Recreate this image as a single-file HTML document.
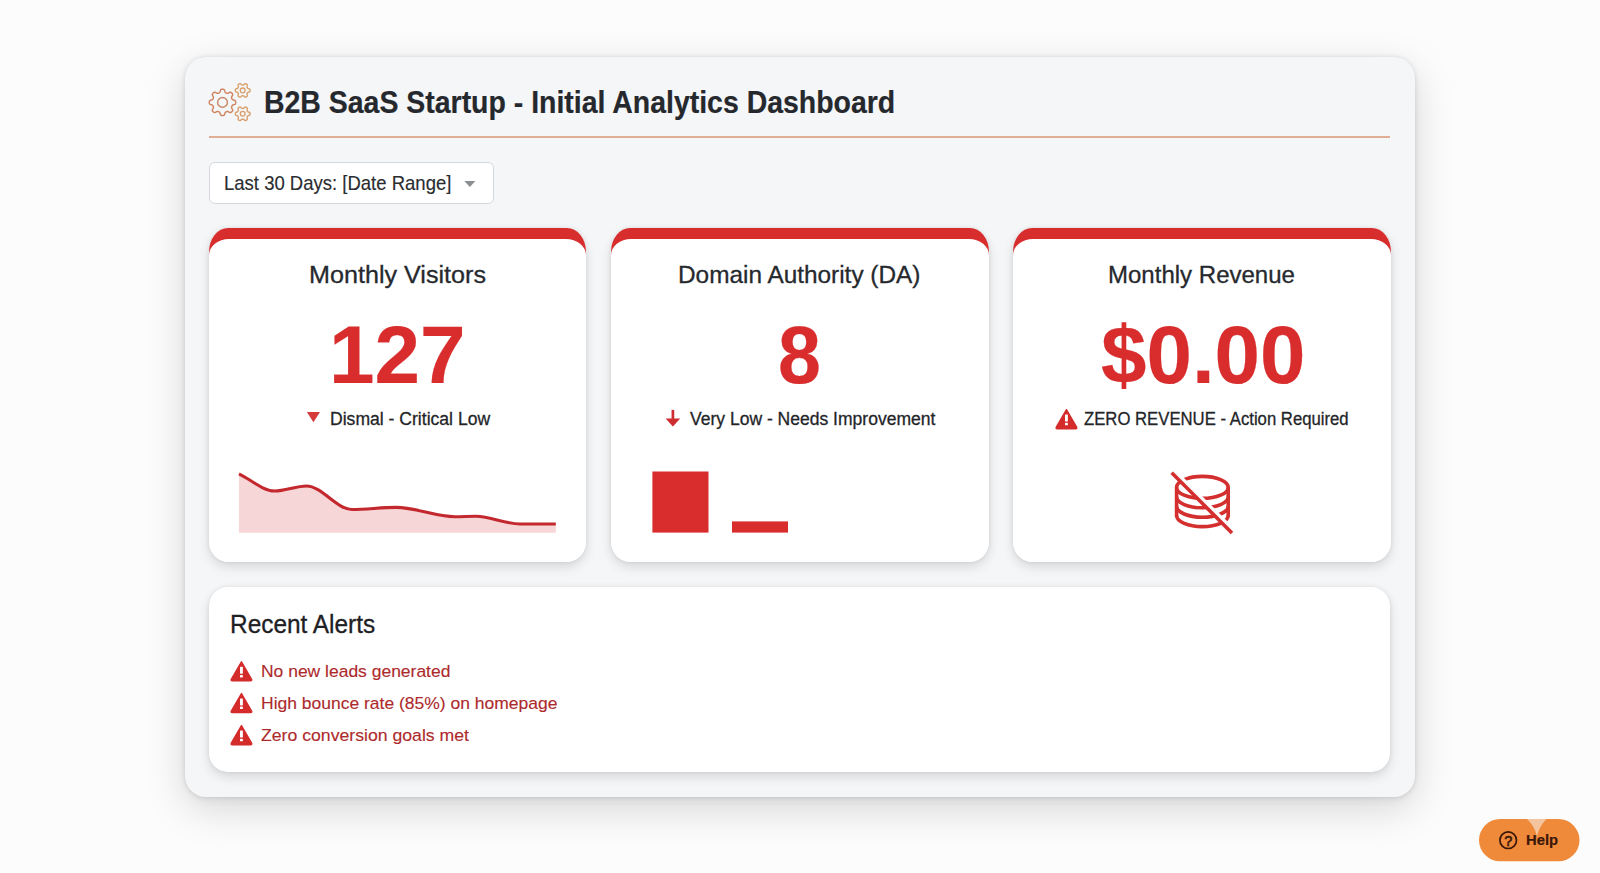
<!DOCTYPE html>
<html><head><meta charset="utf-8">
<style>
*{margin:0;padding:0;box-sizing:border-box}
html,body{width:1600px;height:873px;overflow:hidden;background:#fcfcfc;font-family:"Liberation Sans",sans-serif}
.abs{position:absolute}
.t{position:absolute;white-space:nowrap;line-height:1;transform-origin:0 0}
#panel{position:absolute;left:185px;top:57px;width:1230px;height:740px;background:#f5f6f8;border-radius:21px;
 box-shadow:0 0 4px rgba(0,0,0,0.10),0 12px 40px rgba(0,0,0,0.15),0 3px 8px rgba(0,0,0,0.06)}
#rule{left:209px;top:136px;width:1181px;height:2px;background:rgba(214,140,100,0.68)}
#dd{left:209px;top:161.5px;width:284.5px;height:42.5px;background:#fff;border:1px solid #d5d8dc;border-radius:6px}
.card{position:absolute;top:228.3px;width:377.5px;height:334.2px;border-radius:19px 19px 20px 20px / 24px 24px 20px 20px;
 box-shadow:0 0 4px rgba(0,0,0,0.08),0 5px 12px rgba(0,0,0,0.12)}
.card b{position:absolute;left:0;right:0;top:0;height:40px;background:#d72d2d;border-radius:19px 19px 0 0 / 24px 24px 0 0}
.card i{position:absolute;left:0;right:0;top:10.9px;bottom:0;background:#fff;border-radius:20px 20px 20px 20px / 16px 16px 20px 20px}
#alerts{position:absolute;left:209px;top:586.6px;width:1181px;height:185.8px;background:#fff;border-radius:19px;
 box-shadow:0 0 4px rgba(0,0,0,0.08),0 5px 12px rgba(0,0,0,0.12)}
svg.full{position:absolute;left:0;top:0;width:1600px;height:873px;overflow:visible}
</style></head><body>
<div id="panel"></div>
<div class="abs" id="rule"></div>
<div class="abs" id="dd"></div>
<div class="card" style="left:208.75px"><b></b><i></i></div>
<div class="card" style="left:611px"><b></b><i></i></div>
<div class="card" style="left:1013px"><b></b><i></i></div>
<div id="alerts"></div>
<svg class="full" viewBox="0 0 1600 873">
 <g fill="none" stroke-linejoin="round">
  <path d="M235.70,102.40L235.70,102.63L235.68,102.86L235.66,103.09L235.61,103.32L235.55,103.54L235.46,103.76L235.33,103.98L235.13,104.18L234.85,104.36L234.48,104.51L234.04,104.64L233.58,104.76L233.17,104.86L232.84,104.98L232.59,105.10L232.41,105.24L232.28,105.39L232.17,105.54L232.09,105.70L232.01,105.86L231.93,106.02L231.87,106.18L231.80,106.35L231.73,106.51L231.67,106.68L231.61,106.84L231.56,107.02L231.53,107.20L231.52,107.40L231.55,107.63L231.64,107.89L231.79,108.20L232.00,108.57L232.25,108.97L232.47,109.38L232.62,109.75L232.69,110.08L232.69,110.36L232.63,110.60L232.54,110.82L232.42,111.03L232.29,111.21L232.15,111.39L231.99,111.57L231.83,111.73L231.67,111.89L231.49,112.05L231.31,112.19L231.13,112.32L230.92,112.44L230.70,112.53L230.46,112.59L230.18,112.59L229.85,112.52L229.48,112.37L229.07,112.15L228.67,111.90L228.30,111.69L227.99,111.54L227.73,111.45L227.50,111.42L227.30,111.43L227.12,111.46L226.94,111.51L226.78,111.57L226.61,111.63L226.45,111.70L226.28,111.77L226.12,111.83L225.96,111.91L225.80,111.99L225.64,112.07L225.49,112.18L225.34,112.31L225.20,112.49L225.08,112.74L224.96,113.07L224.86,113.48L224.74,113.94L224.61,114.38L224.46,114.75L224.28,115.03L224.08,115.23L223.86,115.36L223.64,115.45L223.42,115.51L223.19,115.56L222.96,115.58L222.73,115.60L222.50,115.60L222.27,115.60L222.04,115.58L221.81,115.56L221.58,115.51L221.36,115.45L221.14,115.36L220.92,115.23L220.72,115.03L220.54,114.75L220.39,114.38L220.26,113.94L220.14,113.48L220.04,113.07L219.92,112.74L219.80,112.49L219.66,112.31L219.51,112.18L219.36,112.07L219.20,111.99L219.04,111.91L218.88,111.83L218.72,111.77L218.55,111.70L218.39,111.63L218.22,111.57L218.06,111.51L217.88,111.46L217.70,111.43L217.50,111.42L217.27,111.45L217.01,111.54L216.70,111.69L216.33,111.90L215.93,112.15L215.52,112.37L215.15,112.52L214.82,112.59L214.54,112.59L214.30,112.53L214.08,112.44L213.87,112.32L213.69,112.19L213.51,112.05L213.33,111.89L213.17,111.73L213.01,111.57L212.85,111.39L212.71,111.21L212.58,111.03L212.46,110.82L212.37,110.60L212.31,110.36L212.31,110.08L212.38,109.75L212.53,109.38L212.75,108.97L213.00,108.57L213.21,108.20L213.36,107.89L213.45,107.63L213.48,107.40L213.47,107.20L213.44,107.02L213.39,106.84L213.33,106.68L213.27,106.51L213.20,106.35L213.13,106.18L213.07,106.02L212.99,105.86L212.91,105.70L212.83,105.54L212.72,105.39L212.59,105.24L212.41,105.10L212.16,104.98L211.83,104.86L211.42,104.76L210.96,104.64L210.52,104.51L210.15,104.36L209.87,104.18L209.67,103.98L209.54,103.76L209.45,103.54L209.39,103.32L209.34,103.09L209.32,102.86L209.30,102.63L209.30,102.40L209.30,102.17L209.32,101.94L209.34,101.71L209.39,101.48L209.45,101.26L209.54,101.04L209.67,100.82L209.87,100.62L210.15,100.44L210.52,100.29L210.96,100.16L211.42,100.04L211.83,99.94L212.16,99.82L212.41,99.70L212.59,99.56L212.72,99.41L212.83,99.26L212.91,99.10L212.99,98.94L213.07,98.78L213.13,98.62L213.20,98.45L213.27,98.29L213.33,98.12L213.39,97.96L213.44,97.78L213.47,97.60L213.48,97.40L213.45,97.17L213.36,96.91L213.21,96.60L213.00,96.23L212.75,95.83L212.53,95.42L212.38,95.05L212.31,94.72L212.31,94.44L212.37,94.20L212.46,93.98L212.58,93.77L212.71,93.59L212.85,93.41L213.01,93.23L213.17,93.07L213.33,92.91L213.51,92.75L213.69,92.61L213.87,92.48L214.08,92.36L214.30,92.27L214.54,92.21L214.82,92.21L215.15,92.28L215.52,92.43L215.93,92.65L216.33,92.90L216.70,93.11L217.01,93.26L217.27,93.35L217.50,93.38L217.70,93.37L217.88,93.34L218.06,93.29L218.22,93.23L218.39,93.17L218.55,93.10L218.72,93.03L218.88,92.97L219.04,92.89L219.20,92.81L219.36,92.73L219.51,92.62L219.66,92.49L219.80,92.31L219.92,92.06L220.04,91.73L220.14,91.32L220.26,90.86L220.39,90.42L220.54,90.05L220.72,89.77L220.92,89.57L221.14,89.44L221.36,89.35L221.58,89.29L221.81,89.24L222.04,89.22L222.27,89.20L222.50,89.20L222.73,89.20L222.96,89.22L223.19,89.24L223.42,89.29L223.64,89.35L223.86,89.44L224.08,89.57L224.28,89.77L224.46,90.05L224.61,90.42L224.74,90.86L224.86,91.32L224.96,91.73L225.08,92.06L225.20,92.31L225.34,92.49L225.49,92.62L225.64,92.73L225.80,92.81L225.96,92.89L226.12,92.97L226.28,93.03L226.45,93.10L226.61,93.17L226.78,93.23L226.94,93.29L227.12,93.34L227.30,93.37L227.50,93.38L227.73,93.35L227.99,93.26L228.30,93.11L228.67,92.90L229.07,92.65L229.48,92.43L229.85,92.28L230.18,92.21L230.46,92.21L230.70,92.27L230.92,92.36L231.13,92.48L231.31,92.61L231.49,92.75L231.67,92.91L231.83,93.07L231.99,93.23L232.15,93.41L232.29,93.59L232.42,93.77L232.54,93.98L232.63,94.20L232.69,94.44L232.69,94.72L232.62,95.05L232.47,95.42L232.25,95.83L232.00,96.23L231.79,96.60L231.64,96.91L231.55,97.17L231.52,97.40L231.53,97.60L231.56,97.78L231.61,97.96L231.67,98.12L231.73,98.29L231.80,98.45L231.87,98.62L231.93,98.78L232.01,98.94L232.09,99.10L232.17,99.26L232.28,99.41L232.41,99.56L232.59,99.70L232.84,99.82L233.17,99.94L233.58,100.04L234.04,100.16L234.48,100.29L234.85,100.44L235.13,100.62L235.33,100.82L235.46,101.04L235.55,101.26L235.61,101.48L235.66,101.71L235.68,101.94L235.70,102.17Z" stroke="#cf8460" stroke-width="1.45"/>
  <circle cx="222.5" cy="102.4" r="4.9" stroke="#c98662" stroke-width="1.4"/>
  <path d="M250.10,90.40L250.10,90.53L250.09,90.66L250.08,90.79L250.06,90.91L250.04,91.04L250.01,91.17L249.97,91.29L249.92,91.42L249.85,91.53L249.76,91.65L249.65,91.75L249.50,91.85L249.32,91.93L249.11,92.00L248.88,92.06L248.66,92.11L248.44,92.16L248.26,92.21L248.11,92.26L247.99,92.32L247.89,92.39L247.81,92.46L247.74,92.54L247.68,92.62L247.62,92.69L247.57,92.77L247.52,92.86L247.47,92.94L247.42,93.02L247.38,93.10L247.33,93.18L247.28,93.26L247.24,93.35L247.19,93.43L247.15,93.51L247.11,93.60L247.07,93.69L247.04,93.79L247.02,93.90L247.01,94.02L247.02,94.15L247.05,94.31L247.09,94.50L247.16,94.70L247.23,94.93L247.29,95.15L247.33,95.37L247.35,95.57L247.34,95.74L247.31,95.90L247.26,96.03L247.19,96.15L247.11,96.25L247.02,96.35L246.93,96.44L246.83,96.52L246.73,96.60L246.62,96.67L246.51,96.74L246.40,96.81L246.29,96.87L246.17,96.93L246.06,96.99L245.94,97.04L245.81,97.08L245.69,97.12L245.56,97.15L245.43,97.16L245.30,97.16L245.15,97.14L245.00,97.09L244.85,97.01L244.69,96.90L244.52,96.75L244.36,96.58L244.20,96.41L244.05,96.25L243.92,96.12L243.79,96.02L243.68,95.94L243.57,95.89L243.47,95.85L243.37,95.83L243.27,95.82L243.17,95.81L243.08,95.80L242.98,95.80L242.89,95.80L242.79,95.80L242.70,95.80L242.61,95.80L242.51,95.80L242.42,95.80L242.32,95.80L242.23,95.81L242.13,95.82L242.03,95.83L241.93,95.85L241.83,95.89L241.72,95.94L241.61,96.02L241.48,96.12L241.35,96.25L241.20,96.41L241.04,96.58L240.88,96.75L240.71,96.90L240.55,97.01L240.40,97.09L240.25,97.14L240.10,97.16L239.97,97.16L239.84,97.15L239.71,97.12L239.59,97.08L239.46,97.04L239.34,96.99L239.23,96.93L239.11,96.87L239.00,96.81L238.89,96.74L238.78,96.67L238.67,96.60L238.57,96.52L238.47,96.44L238.38,96.35L238.29,96.25L238.21,96.15L238.14,96.03L238.09,95.90L238.06,95.74L238.05,95.57L238.07,95.37L238.11,95.15L238.17,94.93L238.24,94.70L238.31,94.50L238.35,94.31L238.38,94.15L238.39,94.02L238.38,93.90L238.36,93.79L238.33,93.69L238.29,93.60L238.25,93.51L238.21,93.43L238.16,93.35L238.12,93.26L238.07,93.18L238.02,93.10L237.98,93.02L237.93,92.94L237.88,92.86L237.83,92.77L237.78,92.69L237.72,92.62L237.66,92.54L237.59,92.46L237.51,92.39L237.41,92.32L237.29,92.26L237.14,92.21L236.96,92.16L236.74,92.11L236.52,92.06L236.29,92.00L236.08,91.93L235.90,91.85L235.75,91.75L235.64,91.65L235.55,91.53L235.48,91.42L235.43,91.29L235.39,91.17L235.36,91.04L235.34,90.91L235.32,90.79L235.31,90.66L235.30,90.53L235.30,90.40L235.30,90.27L235.31,90.14L235.32,90.01L235.34,89.89L235.36,89.76L235.39,89.63L235.43,89.51L235.48,89.38L235.55,89.27L235.64,89.15L235.75,89.05L235.90,88.95L236.08,88.87L236.29,88.80L236.52,88.74L236.74,88.69L236.96,88.64L237.14,88.59L237.29,88.54L237.41,88.48L237.51,88.41L237.59,88.34L237.66,88.26L237.72,88.18L237.78,88.11L237.83,88.03L237.88,87.94L237.93,87.86L237.98,87.78L238.02,87.70L238.07,87.62L238.12,87.54L238.16,87.45L238.21,87.37L238.25,87.29L238.29,87.20L238.33,87.11L238.36,87.01L238.38,86.90L238.39,86.78L238.38,86.65L238.35,86.49L238.31,86.30L238.24,86.10L238.17,85.87L238.11,85.65L238.07,85.43L238.05,85.23L238.06,85.06L238.09,84.90L238.14,84.77L238.21,84.65L238.29,84.55L238.38,84.45L238.47,84.36L238.57,84.28L238.67,84.20L238.78,84.13L238.89,84.06L239.00,83.99L239.11,83.93L239.23,83.87L239.34,83.81L239.46,83.76L239.59,83.72L239.71,83.68L239.84,83.65L239.97,83.64L240.10,83.64L240.25,83.66L240.40,83.71L240.55,83.79L240.71,83.90L240.88,84.05L241.04,84.22L241.20,84.39L241.35,84.55L241.48,84.68L241.61,84.78L241.72,84.86L241.83,84.91L241.93,84.95L242.03,84.97L242.13,84.98L242.23,84.99L242.32,85.00L242.42,85.00L242.51,85.00L242.61,85.00L242.70,85.00L242.79,85.00L242.89,85.00L242.98,85.00L243.08,85.00L243.17,84.99L243.27,84.98L243.37,84.97L243.47,84.95L243.57,84.91L243.68,84.86L243.79,84.78L243.92,84.68L244.05,84.55L244.20,84.39L244.36,84.22L244.52,84.05L244.69,83.90L244.85,83.79L245.00,83.71L245.15,83.66L245.30,83.64L245.43,83.64L245.56,83.65L245.69,83.68L245.81,83.72L245.94,83.76L246.06,83.81L246.17,83.87L246.29,83.93L246.40,83.99L246.51,84.06L246.62,84.13L246.73,84.20L246.83,84.28L246.93,84.36L247.02,84.45L247.11,84.55L247.19,84.65L247.26,84.77L247.31,84.90L247.34,85.06L247.35,85.23L247.33,85.43L247.29,85.65L247.23,85.87L247.16,86.10L247.09,86.30L247.05,86.49L247.02,86.65L247.01,86.78L247.02,86.90L247.04,87.01L247.07,87.11L247.11,87.20L247.15,87.29L247.19,87.37L247.24,87.45L247.28,87.54L247.33,87.62L247.38,87.70L247.42,87.78L247.47,87.86L247.52,87.94L247.57,88.03L247.62,88.11L247.68,88.18L247.74,88.26L247.81,88.34L247.89,88.41L247.99,88.48L248.11,88.54L248.26,88.59L248.44,88.64L248.66,88.69L248.88,88.74L249.11,88.80L249.32,88.87L249.50,88.95L249.65,89.05L249.76,89.15L249.85,89.27L249.92,89.38L249.97,89.51L250.01,89.63L250.04,89.76L250.06,89.89L250.08,90.01L250.09,90.14L250.10,90.27Z" stroke="#d9a06c" stroke-width="1.4"/>
  <circle cx="242.7" cy="90.4" r="2.4" stroke="#d9a06c" stroke-width="1.3"/>
  <path d="M250.10,113.80L250.10,113.93L250.09,114.06L250.08,114.19L250.06,114.31L250.04,114.44L250.01,114.57L249.97,114.69L249.92,114.82L249.85,114.93L249.76,115.05L249.65,115.15L249.50,115.25L249.32,115.33L249.11,115.40L248.88,115.46L248.66,115.51L248.44,115.56L248.26,115.61L248.11,115.66L247.99,115.72L247.89,115.79L247.81,115.86L247.74,115.94L247.68,116.02L247.62,116.09L247.57,116.17L247.52,116.26L247.47,116.34L247.42,116.42L247.38,116.50L247.33,116.58L247.28,116.66L247.24,116.75L247.19,116.83L247.15,116.91L247.11,117.00L247.07,117.09L247.04,117.19L247.02,117.30L247.01,117.42L247.02,117.55L247.05,117.71L247.09,117.90L247.16,118.10L247.23,118.33L247.29,118.55L247.33,118.77L247.35,118.97L247.34,119.14L247.31,119.30L247.26,119.43L247.19,119.55L247.11,119.65L247.02,119.75L246.93,119.84L246.83,119.92L246.73,120.00L246.62,120.07L246.51,120.14L246.40,120.21L246.29,120.27L246.17,120.33L246.06,120.39L245.94,120.44L245.81,120.48L245.69,120.52L245.56,120.55L245.43,120.56L245.30,120.56L245.15,120.54L245.00,120.49L244.85,120.41L244.69,120.30L244.52,120.15L244.36,119.98L244.20,119.81L244.05,119.65L243.92,119.52L243.79,119.42L243.68,119.34L243.57,119.29L243.47,119.25L243.37,119.23L243.27,119.22L243.17,119.21L243.08,119.20L242.98,119.20L242.89,119.20L242.79,119.20L242.70,119.20L242.61,119.20L242.51,119.20L242.42,119.20L242.32,119.20L242.23,119.21L242.13,119.22L242.03,119.23L241.93,119.25L241.83,119.29L241.72,119.34L241.61,119.42L241.48,119.52L241.35,119.65L241.20,119.81L241.04,119.98L240.88,120.15L240.71,120.30L240.55,120.41L240.40,120.49L240.25,120.54L240.10,120.56L239.97,120.56L239.84,120.55L239.71,120.52L239.59,120.48L239.46,120.44L239.34,120.39L239.23,120.33L239.11,120.27L239.00,120.21L238.89,120.14L238.78,120.07L238.67,120.00L238.57,119.92L238.47,119.84L238.38,119.75L238.29,119.65L238.21,119.55L238.14,119.43L238.09,119.30L238.06,119.14L238.05,118.97L238.07,118.77L238.11,118.55L238.17,118.33L238.24,118.10L238.31,117.90L238.35,117.71L238.38,117.55L238.39,117.42L238.38,117.30L238.36,117.19L238.33,117.09L238.29,117.00L238.25,116.91L238.21,116.83L238.16,116.75L238.12,116.66L238.07,116.58L238.02,116.50L237.98,116.42L237.93,116.34L237.88,116.26L237.83,116.17L237.78,116.09L237.72,116.02L237.66,115.94L237.59,115.86L237.51,115.79L237.41,115.72L237.29,115.66L237.14,115.61L236.96,115.56L236.74,115.51L236.52,115.46L236.29,115.40L236.08,115.33L235.90,115.25L235.75,115.15L235.64,115.05L235.55,114.93L235.48,114.82L235.43,114.69L235.39,114.57L235.36,114.44L235.34,114.31L235.32,114.19L235.31,114.06L235.30,113.93L235.30,113.80L235.30,113.67L235.31,113.54L235.32,113.41L235.34,113.29L235.36,113.16L235.39,113.03L235.43,112.91L235.48,112.78L235.55,112.67L235.64,112.55L235.75,112.45L235.90,112.35L236.08,112.27L236.29,112.20L236.52,112.14L236.74,112.09L236.96,112.04L237.14,111.99L237.29,111.94L237.41,111.88L237.51,111.81L237.59,111.74L237.66,111.66L237.72,111.58L237.78,111.51L237.83,111.43L237.88,111.34L237.93,111.26L237.98,111.18L238.02,111.10L238.07,111.02L238.12,110.94L238.16,110.85L238.21,110.77L238.25,110.69L238.29,110.60L238.33,110.51L238.36,110.41L238.38,110.30L238.39,110.18L238.38,110.05L238.35,109.89L238.31,109.70L238.24,109.50L238.17,109.27L238.11,109.05L238.07,108.83L238.05,108.63L238.06,108.46L238.09,108.30L238.14,108.17L238.21,108.05L238.29,107.95L238.38,107.85L238.47,107.76L238.57,107.68L238.67,107.60L238.78,107.53L238.89,107.46L239.00,107.39L239.11,107.33L239.23,107.27L239.34,107.21L239.46,107.16L239.59,107.12L239.71,107.08L239.84,107.05L239.97,107.04L240.10,107.04L240.25,107.06L240.40,107.11L240.55,107.19L240.71,107.30L240.88,107.45L241.04,107.62L241.20,107.79L241.35,107.95L241.48,108.08L241.61,108.18L241.72,108.26L241.83,108.31L241.93,108.35L242.03,108.37L242.13,108.38L242.23,108.39L242.32,108.40L242.42,108.40L242.51,108.40L242.61,108.40L242.70,108.40L242.79,108.40L242.89,108.40L242.98,108.40L243.08,108.40L243.17,108.39L243.27,108.38L243.37,108.37L243.47,108.35L243.57,108.31L243.68,108.26L243.79,108.18L243.92,108.08L244.05,107.95L244.20,107.79L244.36,107.62L244.52,107.45L244.69,107.30L244.85,107.19L245.00,107.11L245.15,107.06L245.30,107.04L245.43,107.04L245.56,107.05L245.69,107.08L245.81,107.12L245.94,107.16L246.06,107.21L246.17,107.27L246.29,107.33L246.40,107.39L246.51,107.46L246.62,107.53L246.73,107.60L246.83,107.68L246.93,107.76L247.02,107.85L247.11,107.95L247.19,108.05L247.26,108.17L247.31,108.30L247.34,108.46L247.35,108.63L247.33,108.83L247.29,109.05L247.23,109.27L247.16,109.50L247.09,109.70L247.05,109.89L247.02,110.05L247.01,110.18L247.02,110.30L247.04,110.41L247.07,110.51L247.11,110.60L247.15,110.69L247.19,110.77L247.24,110.85L247.28,110.94L247.33,111.02L247.38,111.10L247.42,111.18L247.47,111.26L247.52,111.34L247.57,111.43L247.62,111.51L247.68,111.58L247.74,111.66L247.81,111.74L247.89,111.81L247.99,111.88L248.11,111.94L248.26,111.99L248.44,112.04L248.66,112.09L248.88,112.14L249.11,112.20L249.32,112.27L249.50,112.35L249.65,112.45L249.76,112.55L249.85,112.67L249.92,112.78L249.97,112.91L250.01,113.03L250.04,113.16L250.06,113.29L250.08,113.41L250.09,113.54L250.10,113.67Z" stroke="#d9a06c" stroke-width="1.4"/>
  <circle cx="242.7" cy="113.8" r="2.4" stroke="#d9a06c" stroke-width="1.3"/>
 </g>
 <!-- dropdown caret -->
 <path d="M464.4,181 L475.3,181 L469.85,187 Z" fill="#8a8d91"/>
 <!-- sub icons -->
 <path d="M306.9,411.9 L320,411.9 L313.45,422.3 Z" fill="#d63a3a"/>
 <g fill="#cf2c2f">
  <rect x="671.55" y="409.9" width="2.7" height="10"/>
  <path d="M665.6,418.6 L680.2,418.6 L672.9,426.4 Z"/>
 </g>
 <!-- sparkline -->
 <path d="M239,473.8 C250.87,479.53 262.73,491.00 274.6,491 C285.23,491.00 295.87,486.00 306.5,486 C321.67,486.00 336.83,509.50 352,509.5 C366.67,509.50 381.33,507.40 396,507.4 C415.67,507.40 435.33,516.80 455,516.8 C462.00,516.80 469.00,516.30 476,516.3 C490.67,516.30 505.33,524.00 520,524 C531.93,524.00 543.87,524.00 555.8,524 L555.8,532.7 L239,532.7 Z" fill="#f6d6d6"/>
 <path d="M239,473.8 C250.87,479.53 262.73,491.00 274.6,491 C285.23,491.00 295.87,486.00 306.5,486 C321.67,486.00 336.83,509.50 352,509.5 C366.67,509.50 381.33,507.40 396,507.4 C415.67,507.40 435.33,516.80 455,516.8 C462.00,516.80 469.00,516.30 476,516.3 C490.67,516.30 505.33,524.00 520,524 C531.93,524.00 543.87,524.00 555.8,524" fill="none" stroke="#c2282d" stroke-width="3.1" stroke-linecap="butt"/>
 <!-- bars -->
 <rect x="652.4" y="471.5" width="56.1" height="61.1" fill="#d92d2d"/>
 <rect x="732" y="521.4" width="56" height="11.2" fill="#d92d2d"/>
 <!-- warning icons -->
 <defs>
  <g id="warn">
   <path d="M11.15,1.5 L21.3,19 Q22,20.5 20.3,20.5 L2,20.5 Q0.3,20.5 1,19 Z" fill="#d42b2b" stroke="#d42b2b" stroke-width="1.4" stroke-linejoin="round"/>
   <rect x="9.7" y="6.4" width="2.9" height="7" rx="0.6" fill="#fff"/>
   <rect x="9.7" y="14.6" width="2.9" height="2.5" rx="0.6" fill="#fff"/>
  </g>
 </defs>
 <use href="#warn" x="1055.3" y="408.2"/>
 <use href="#warn" x="230.3" y="660.3"/>
 <use href="#warn" x="230.3" y="692"/>
 <use href="#warn" x="230.3" y="724.2"/>
 <!-- coins icon -->
 <g fill="none" stroke="#d42f2f" stroke-width="3.6" stroke-linecap="butt">
  <ellipse cx="1202.4" cy="487.4" rx="25.8" ry="11"/>
  <path d="M1176.6,487.4 L1176.6,516.4 M1228.2,487.4 L1228.2,516.4"/>
  <path d="M1176.6,496.8 A25.8,11 0 0 0 1228.2,496.8"/>
  <path d="M1176.6,506.2 A25.8,11 0 0 0 1228.2,506.2"/>
  <path d="M1176.6,515.6 A25.8,11 0 0 0 1228.2,515.6"/>
 </g>
 <path d="M1173.5,471 L1234.5,532" stroke="#fff" stroke-width="5"/>
 <path d="M1171.7,472.7 L1232,533" stroke="#d42f2f" stroke-width="3.6" stroke-linecap="butt"/>
 <!-- help -->
 <rect x="1479" y="819" width="100.5" height="42.3" rx="21.1" fill="#ef8a3b"/>
 <path d="M1527,819 Q1534.5,826 1537,836 Q1539.5,826 1546.5,819 Z" fill="#f3c49e"/>
 <circle cx="1508.2" cy="840.2" r="8.3" fill="none" stroke="#3a1608" stroke-width="1.7"/>
 <text x="1508.3" y="845.6" font-family="Liberation Sans" font-weight="normal" font-size="14.5" fill="#3a1608" stroke="#3a1608" stroke-width="0.6" text-anchor="middle">?</text>
</svg>
<div class="t" style="left:263.84px;top:87.35px;font-size:31.25px;font-weight:bold;color:#25282c;-webkit-text-stroke:0.2px #25282c;transform:scaleX(0.9103)">B2B SaaS Startup - Initial Analytics Dashboard</div>
<div class="t" style="left:223.5px;top:172.65px;font-size:20.49px;font-weight:normal;color:#2a2c2f;-webkit-text-stroke:0.15px #2a2c2f;transform:scaleX(0.9036)">Last 30 Days: [Date Range]</div>
<div class="t" style="left:308.73px;top:262.55px;font-size:24.6px;font-weight:normal;color:#26292d;-webkit-text-stroke:0.3px #26292d;transform:scaleX(1.0224)">Monthly Visitors</div>
<div class="t" style="left:678.41px;top:263.0px;font-size:24.6px;font-weight:normal;color:#26292d;-webkit-text-stroke:0.3px #26292d;transform:scaleX(0.9909)">Domain Authority (DA)</div>
<div class="t" style="left:1108.42px;top:262.55px;font-size:24.6px;font-weight:normal;color:#26292d;-webkit-text-stroke:0.3px #26292d;transform:scaleX(0.9768)">Monthly Revenue</div>
<div class="t" style="left:329.13px;top:315.35px;font-size:80.68px;font-weight:bold;color:#d92d2d;-webkit-text-stroke:0.2px #d92d2d;transform:scaleX(1.015)">127</div>
<div class="t" style="left:778.19px;top:315.35px;font-size:80.68px;font-weight:bold;color:#d92d2d;-webkit-text-stroke:0.2px #d92d2d;transform:scaleX(0.9561)">8</div>
<div class="t" style="left:1100.79px;top:315.35px;font-size:80.68px;font-weight:bold;color:#d92d2d;-webkit-text-stroke:0.2px #d92d2d;transform:scaleX(1.0131)">$0.00</div>
<div class="t" style="left:329.66px;top:409.95px;font-size:18.8px;font-weight:normal;color:#232528;-webkit-text-stroke:0.3px #232528;transform:scaleX(0.9357)">Dismal - Critical Low</div>
<div class="t" style="left:689.8px;top:410.15px;font-size:18.8px;font-weight:normal;color:#232528;-webkit-text-stroke:0.3px #232528;transform:scaleX(0.9326)">Very Low - Needs Improvement</div>
<div class="t" style="left:1084.4px;top:410.4px;font-size:18.8px;font-weight:normal;color:#232528;-webkit-text-stroke:0.3px #232528;transform:scaleX(0.8896)">ZERO REVENUE - Action Required</div>
<div class="t" style="left:230.02px;top:611.6px;font-size:25.0px;font-weight:normal;color:#1e2023;-webkit-text-stroke:0.3px #1e2023;transform:scaleX(0.9764)">Recent Alerts</div>
<div class="t" style="left:260.7px;top:662.75px;font-size:17.0px;font-weight:normal;color:#ad2a2c;-webkit-text-stroke:0.12px #ad2a2c;transform:scaleX(1.0277)">No new leads generated</div>
<div class="t" style="left:260.7px;top:694.55px;font-size:17.0px;font-weight:normal;color:#ad2a2c;-webkit-text-stroke:0.12px #ad2a2c;transform:scaleX(1.0285)">High bounce rate (85%) on homepage</div>
<div class="t" style="left:260.7px;top:726.65px;font-size:17.0px;font-weight:normal;color:#ad2a2c;-webkit-text-stroke:0.12px #ad2a2c;transform:scaleX(1.0383)">Zero conversion goals met</div>
<div class="t" style="left:1526.0px;top:832.45px;font-size:15.26px;font-weight:bold;color:#3a1608;-webkit-text-stroke:0.2px #3a1608;transform:scaleX(0.9697)">Help</div>

</body></html>
